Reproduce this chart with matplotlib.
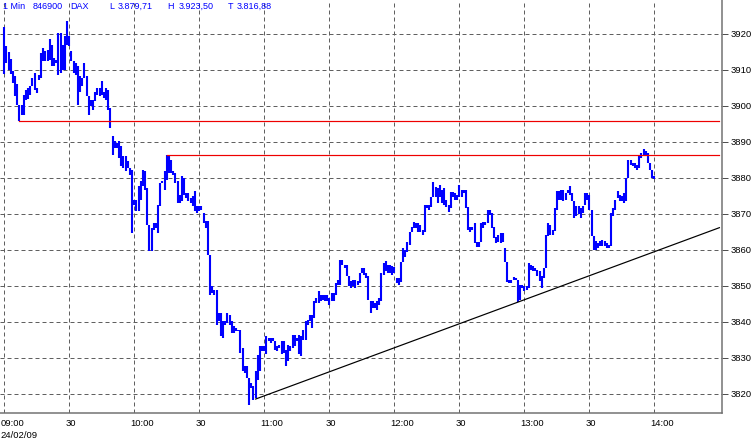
import matplotlib
matplotlib.use("Agg")
import matplotlib.pyplot as plt
import matplotlib.transforms as mtransforms

# ---------------- data (1-minute bars, DAX 24/02/09) ----------------
# highs / lows per minute, 09:00 .. 14:00
high_09 = [3922.0, 3916.6, 3915.0, 3913.0, 3909.6, 3908.2, 3906.0, 3900.4, 3900.4, 3903.1,
           3904.5, 3905.0, 3905.5, 3907.8, 3909.2, 3905.0, 3908.7, 3914.7, 3916.0, 3915.2,
           3915.6, 3918.6, 3917.0, 3913.3, 3912.9, 3920.3, 3920.3, 3917.0, 3919.4, 3923.5,
           3919.4, 3915.2, 3912.4, 3912.0, 3911.0, 3908.2, 3907.8, 3912.0, 3908.2, 3902.7,
           3901.8, 3901.8, 3904.0, 3905.0, 3905.0, 3906.9, 3904.0, 3905.0, 3904.5, 3899.4,
           3891.6, 3890.2, 3889.7, 3890.2, 3888.8, 3886.0, 3886.0, 3884.6, 3882.8, 3882.3]
low_09 = [3909.0, 3912.0, 3910.0, 3909.0, 3906.4, 3902.7, 3900.4, 3895.9, 3897.6, 3897.6,
          3901.8, 3902.0, 3903.0, 3905.5, 3904.5, 3903.6, 3907.3, 3907.8, 3912.4, 3912.4,
          3912.4, 3912.9, 3911.0, 3911.0, 3912.0, 3908.7, 3909.2, 3910.1, 3910.1, 3917.0,
          3916.6, 3912.4, 3909.2, 3908.7, 3900.4, 3904.0, 3905.5, 3907.8, 3902.7, 3897.6,
          3899.9, 3899.0, 3901.3, 3903.1, 3902.7, 3903.1, 3902.2, 3901.8, 3899.0, 3893.9,
          3886.5, 3888.3, 3888.3, 3885.6, 3883.2, 3882.8, 3881.9, 3882.8, 3880.9, 3864.7]
high_10 = [3874.0, 3874.0, 3877.7, 3879.1, 3882.3, 3881.9, 3877.2, 3867.0, 3866.1, 3867.5,
           3867.5, 3872.6, 3878.6, 3879.1, 3881.9, 3886.5, 3886.5, 3885.1, 3881.9, 3881.4,
           3879.1, 3875.4, 3880.5, 3880.0, 3875.8, 3875.8, 3874.4, 3874.9, 3876.3, 3872.1,
           3872.1, 3872.1, 3870.3, 3868.0, 3868.0, 3858.7, 3849.9, 3849.0, 3849.0, 3842.5,
           3842.5, 3840.2, 3840.2, 3842.5, 3842.0, 3840.2, 3838.8, 3838.4, 3837.9, 3837.9,
           3832.8, 3827.7, 3827.7, 3824.4, 3823.0, 3822.1, 3826.3, 3830.9, 3833.2, 3833.2]
low_10 = [3872.6, 3870.7, 3870.7, 3874.0, 3877.7, 3876.8, 3867.0, 3859.6, 3859.6, 3865.6,
          3866.1, 3864.7, 3872.1, 3878.6, 3876.8, 3879.5, 3881.4, 3881.4, 3880.9, 3878.6,
          3873.1, 3873.1, 3873.5, 3875.4, 3874.4, 3873.5, 3873.1, 3872.1, 3870.7, 3870.3,
          3870.7, 3871.2, 3867.5, 3866.1, 3858.7, 3847.6, 3848.0, 3847.6, 3839.3, 3840.2,
          3836.0, 3835.6, 3839.3, 3839.7, 3839.3, 3836.9, 3836.9, 3837.4, 3837.4, 3831.4,
          3826.3, 3825.8, 3824.4, 3816.88, 3821.7, 3818.4, 3818.9, 3824.0, 3826.3, 3831.9]
high_11 = [3833.2, 3836.0, 3835.6, 3835.6, 3835.6, 3834.6, 3833.2, 3833.7, 3834.6, 3834.6,
           3832.3, 3833.7, 3833.2, 3836.5, 3836.5, 3835.6, 3836.5, 3836.0, 3837.9, 3840.2,
           3840.6, 3842.0, 3842.0, 3845.7, 3846.7, 3848.5, 3847.6, 3847.6, 3847.6, 3847.6,
           3846.7, 3848.1, 3848.1, 3850.8, 3851.8, 3857.3, 3857.3, 3855.9, 3855.9, 3852.7,
           3851.3, 3851.8, 3851.8, 3851.3, 3853.6, 3855.0, 3855.0, 3853.6, 3852.7, 3845.7,
           3845.7, 3845.3, 3845.7, 3846.7, 3853.6, 3856.4, 3856.9, 3855.9, 3855.9, 3855.5]
low_11 = [3831.9, 3831.0, 3834.6, 3834.2, 3834.6, 3832.3, 3831.9, 3832.8, 3831.0, 3831.5,
          3827.7, 3829.1, 3831.9, 3832.8, 3833.2, 3834.6, 3831.0, 3830.5, 3835.1, 3835.1,
          3839.3, 3840.2, 3838.3, 3841.1, 3845.3, 3845.3, 3845.7, 3846.2, 3845.7, 3845.7,
          3844.8, 3845.7, 3845.7, 3847.6, 3850.4, 3850.4, 3855.9, 3855.0, 3852.7, 3849.9,
          3849.4, 3849.9, 3849.4, 3850.4, 3850.8, 3853.6, 3853.1, 3852.2, 3846.2, 3842.5,
          3843.8, 3843.8, 3843.4, 3844.8, 3845.7, 3853.1, 3854.1, 3853.6, 3853.6, 3853.1]
high_12 = [3855.4, 3852.1, 3852.1, 3856.8, 3860.5, 3860.0, 3862.3, 3865.1, 3866.5, 3867.9,
           3867.4, 3867.4, 3866.9, 3865.6, 3872.5, 3872.5, 3872.5, 3874.8, 3879.0, 3877.6,
           3877.1, 3878.1, 3876.7, 3877.1, 3873.9, 3872.5, 3876.2, 3876.2, 3875.7, 3875.2,
           3878.1, 3876.7, 3876.7, 3876.7, 3872.0, 3866.5, 3866.5, 3867.4, 3862.3, 3862.3,
           3867.4, 3867.9, 3867.9, 3871.1, 3871.1, 3870.2, 3866.5, 3863.7, 3864.2, 3864.6,
           3864.6, 3860.5, 3856.8, 3851.7, 3851.7, 3852.6, 3852.1, 3851.7, 3850.3, 3850.3]
low_12 = [3853.5, 3850.7, 3850.3, 3851.2, 3856.8, 3858.1, 3859.5, 3861.4, 3865.1, 3866.0,
          3866.0, 3865.1, 3865.1, 3864.2, 3865.1, 3871.6, 3871.1, 3872.0, 3874.8, 3874.8,
          3873.0, 3874.8, 3873.0, 3872.5, 3872.0, 3870.6, 3871.6, 3874.8, 3873.9, 3873.9,
          3874.8, 3874.8, 3875.7, 3871.6, 3865.6, 3865.1, 3865.6, 3861.9, 3860.9, 3860.9,
          3862.3, 3866.0, 3866.9, 3867.4, 3869.7, 3866.0, 3863.2, 3861.9, 3862.3, 3861.9,
          3862.3, 3856.8, 3851.2, 3850.7, 3850.7, 3851.7, 3851.7, 3845.6, 3846.1, 3849.4]
high_13 = [3849.9, 3849.9, 3856.4, 3855.9, 3855.5, 3855.0, 3854.5, 3854.1, 3852.7, 3855.0,
           3864.3, 3867.5, 3867.0, 3865.6, 3871.7, 3876.3, 3876.3, 3876.8, 3876.8, 3875.8,
           3876.8, 3877.7, 3875.8, 3873.5, 3872.1, 3872.1, 3871.7, 3872.1, 3875.8, 3875.8,
           3875.4, 3871.2, 3863.8, 3862.4, 3861.9, 3862.4, 3862.9, 3862.4, 3861.9, 3861.5,
           3870.3, 3871.7, 3874.0, 3876.3, 3875.4, 3874.9, 3875.8, 3880.0, 3885.1, 3885.1,
           3884.2, 3884.2, 3883.7, 3886.5, 3886.9, 3888.1, 3887.4, 3886.9, 3884.2, 3882.3,
           3880.5]
low_13 = [3848.5, 3849.0, 3849.4, 3854.5, 3854.1, 3854.1, 3852.7, 3851.3, 3849.4, 3852.2,
          3855.0, 3863.8, 3864.3, 3864.3, 3865.2, 3871.2, 3874.0, 3874.0, 3873.5, 3874.0,
          3875.8, 3875.4, 3873.5, 3868.9, 3869.4, 3869.9, 3868.9, 3870.3, 3872.6, 3874.0,
          3871.2, 3863.8, 3860.1, 3860.1, 3860.6, 3861.0, 3861.0, 3861.0, 3860.6, 3860.6,
          3861.0, 3869.4, 3871.2, 3874.4, 3873.5, 3873.5, 3873.1, 3873.5, 3880.0, 3883.7,
          3883.2, 3882.8, 3882.3, 3882.8, 3885.6, 3886.0, 3886.0, 3884.2, 3882.3, 3880.0,
          3879.71]

highs = high_09 + high_10 + high_11 + high_12 + high_13
lows = low_09 + low_10 + low_11 + low_12 + low_13
minutes = list(range(len(highs)))          # minutes after 09:00

# horizontal resistance lines (price, start minute) and support trend line
resist_levels = [3895.9, 3886.5]
resist_start = [7, 75]
trend_minutes = [116, 330]
trend_prices = [3818.6, 3866.2]

y_ticks = [3820, 3830, 3840, 3850, 3860, 3870, 3880, 3890, 3900, 3910, 3920]
x_ticks = [0, 30, 60, 90, 120, 150, 180, 210, 240, 270, 300]
x_labels = ["09:00", "30", "10:00", "30", "11:00", "30", "12:00", "30", "13:00", "30", "14:00"]
header = ["1 Min", "846900", "DAX", "L", "3.879,71", "H", "3.923,50", "T", "3.816,88"]
date_label = "24/02/09"

# ---------------- figure ----------------
plt.rcParams["font.family"] = ["Liberation Sans", "DejaVu Sans"]

W, H = 753, 443
fig = plt.figure(figsize=(W / 100, H / 100), dpi=100)
fig.patch.set_facecolor("white")

ax_left, ax_right, ax_top, ax_bottom = 0, 722, 0, 413
ax = fig.add_axes([ax_left / W, (H - ax_bottom) / H, (ax_right - ax_left) / W, (ax_bottom - ax_top) / H])

px = 72 / 100.0  # points per pixel

ax.set_xlim(-1.98, 331.2)
ax.set_ylim(3814.72, 3929.44)

# grid
grid_kw = dict(color="#606060", linewidth=1 * px, dashes=(4, 3), zorder=1)
for yt in y_ticks:
    ax.axhline(yt, **grid_kw)
for xt in x_ticks:
    ax.axvline(xt, **grid_kw)

# bars
ax.vlines(minutes, lows, highs, color="#0000ff", linewidth=2.1 * px, zorder=3,
          capstyle="butt")

# resistance lines
for lvl, st in zip(resist_levels, resist_start):
    ax.plot([st, trend_minutes[1]], [lvl, lvl], color="#ee0000", linewidth=1.2 * px, zorder=4)
# trend line
ax.plot(trend_minutes, trend_prices, color="black", linewidth=1.2 * px, zorder=4)

# spines
for s in ["top", "left"]:
    ax.spines[s].set_visible(False)
for s in ["right", "bottom"]:
    ax.spines[s].set_color("#707070")
    ax.spines[s].set_linewidth(1.5 * px)

ax.yaxis.tick_right()
ax.set_yticks(y_ticks)
ax.set_yticklabels([str(v) for v in y_ticks])
ax.tick_params(axis="y", direction="out", length=4, width=1 * px, color="#505050",
               labelsize=6.8, pad=2.5, labelcolor="black")
ax.set_xticks(x_ticks)
ax.set_xticklabels(x_labels)
ax.tick_params(axis="x", direction="out", length=0, labelsize=6.8, pad=4, labelcolor="black")
offset = mtransforms.ScaledTranslation(-4 / 100, 0, fig.dpi_scale_trans)
for lab in ax.get_xticklabels():
    lab.set_horizontalalignment("left")
    lab.set_transform(lab.get_transform() + offset)

# header text (blue)
header_x = [3, 33, 70, 109, 118, 167, 179, 228, 237]
for txt, xp in zip(header, header_x):
    fig.text(xp / W, 1 - 6.5 / H, txt, color="#0000ff", fontsize=6.5,
             ha="left", va="center")

fig.text(0 / W, 1 - 435 / H, date_label, fontsize=6.8, ha="left", va="center", color="black")

fig.savefig("out.png", dpi=100)
